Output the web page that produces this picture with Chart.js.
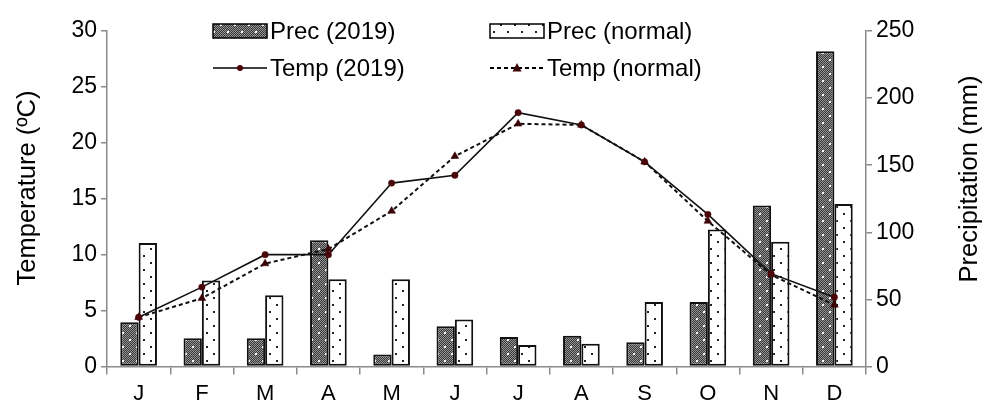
<!DOCTYPE html>
<html><head><meta charset="utf-8">
<script src="https://cdn.jsdelivr.net/npm/chart.js@4.4.1/dist/chart.umd.min.js"></script>
<style>html,body{margin:0;padding:0;background:#fff}#wrap{width:984px;height:405px;position:relative}</style>
</head><body><div id="wrap"><canvas id="c" width="984" height="405"></canvas></div>
<script>
const months = ['J','F','M','A','M','J','J','A','S','O','N','D'];
const precip2019 = [33,21,21,94,9,30,22,23,18,48,120,235];
const precipNormal = [92,64,53,65,65,35,16,17,48,102,93,121];
const temp2019 = [4.4,7.1,10.0,10.0,16.4,17.1,22.7,21.6,18.3,13.6,8.3,6.2];
const tempNormal = [4.4,6.1,9.2,10.5,13.9,18.8,21.7,21.6,18.3,13.0,8.2,5.5];
const tempTicks = [0,5,10,15,20,25,30];
const precipTicks = [0,50,100,150,200,250];
const labels = ['Prec (2019)','Prec (normal)','Temp (2019)','Temp (normal)'];
const axisTitles = ['Temperature (ºC)','Precipitation (mm)'];

const FONT = '"Liberation Sans", Arial, sans-serif';

function makePattern(dark){
  const c=document.createElement('canvas'); c.width=14; c.height=14;
  const x=c.getContext('2d');
  if(dark){
    x.fillStyle='#383838'; x.fillRect(0,0,14,14);
    x.fillStyle='#959595';
    for(let i=0;i<14;i++)for(let j=0;j<14;j++) if((i+j)%2===0) x.fillRect(i,j,1,1);
    x.fillStyle='#ffffff';
    x.fillRect(3,3,2,2); x.fillRect(10,10,2,2);
  } else {
    x.fillStyle='#ffffff'; x.fillRect(0,0,14,14);
    x.fillStyle='#222';
    x.fillRect(3,3,2,2); x.fillRect(10,10,2,2);
  }
  return x.createPattern(c,'repeat');
}
const patDark=makePattern(true), patLight=makePattern(false);

const overlay={id:'overlay',afterDraw(chart){
  const ctx=chart.ctx; ctx.save();
  ctx.fillStyle='#000';
  // axis titles
  ctx.font='25.5px '+FONT; ctx.textAlign='center'; ctx.textBaseline='middle';
  ctx.save(); ctx.translate(28,188); ctx.rotate(-Math.PI/2); ctx.fillText(axisTitles[0],0,0); ctx.restore();
  ctx.save(); ctx.translate(970,179); ctx.rotate(-Math.PI/2); ctx.fillText(axisTitles[1],0,0); ctx.restore();
  // legend
  ctx.font='24px '+FONT; ctx.textAlign='left'; ctx.textBaseline='middle';
  const cols=[213,490], rows=[31,68];
  [[0,0,0],[1,1,0],[2,0,1],[3,1,1]].forEach(([di,ci,ri])=>{
    const ds=chart.data.datasets[di]; const x=cols[ci], y=rows[ri];
    if(ds.type==='bar'){
      ctx.fillStyle=ds.backgroundColor; ctx.fillRect(x,y-7,54,14);
      ctx.strokeStyle='#000'; ctx.lineWidth=1.5; ctx.strokeRect(x,y-7,54,14);
    } else {
      ctx.strokeStyle='#000'; ctx.lineWidth=ds.borderWidth; ctx.setLineDash(ds.borderDash||[]);
      ctx.beginPath(); ctx.moveTo(x,y); ctx.lineTo(x+54,y); ctx.stroke(); ctx.setLineDash([]);
      ctx.fillStyle=ds.pointBackgroundColor;
      ctx.beginPath();
      if(ds.pointStyle==='triangle'){ctx.moveTo(x+27,y-5);ctx.lineTo(x+31.5,y+3.5);ctx.lineTo(x+22.5,y+3.5);ctx.closePath();}
      else ctx.arc(x+27,y,3,0,Math.PI*2);
      ctx.fill();
    }
    ctx.fillStyle='#000'; ctx.fillText(ds.label,x+57,y+1);
  });
  ctx.restore();
}};

new Chart(document.getElementById('c'),{
  data:{labels:months,datasets:[
    {type:'bar',label:labels[0],data:precip2019,yAxisID:'yP',backgroundColor:patDark,borderColor:'#111',borderWidth:2,borderSkipped:false,categoryPercentage:0.58,barPercentage:1,order:2},
    {type:'bar',label:labels[1],data:precipNormal,yAxisID:'yP',backgroundColor:patLight,borderColor:'#111',borderWidth:2,borderSkipped:false,categoryPercentage:0.58,barPercentage:1,order:2},
    {type:'line',label:labels[2],data:temp2019,yAxisID:'yT',borderColor:'#111',borderWidth:1.6,pointStyle:'circle',pointRadius:3.2,pointBackgroundColor:'#4a0608',pointBorderColor:'#4a0608',pointBorderWidth:0.5,tension:0,order:0},
    {type:'line',label:labels[3],data:tempNormal,yAxisID:'yT',borderColor:'#111',borderWidth:2,borderDash:[4,3],pointStyle:'triangle',pointRadius:4.5,pointBackgroundColor:'#3a0406',pointBorderColor:'#3a0406',pointBorderWidth:0.5,tension:0,order:1}
  ]},
  options:{
    responsive:false,animation:false,devicePixelRatio:1,
    layout:{padding:{top:31,left:0,right:0,bottom:0}},
    plugins:{legend:{display:false},tooltip:{enabled:false}},
    scales:{
      x:{type:'category',offset:true,
        grid:{display:true,drawOnChartArea:false,offset:true,tickLength:8,color:'#8a8a8a',lineWidth:1.5},
        border:{display:true,color:'#8a8a8a',width:1.5},
        ticks:{color:'#000',font:{family:FONT,size:22},padding:6},
        afterFit(s){s.height=38.5;}},
      yT:{type:'linear',position:'left',min:0,max:30,
        afterBuildTicks(s){s.ticks=tempTicks.map(v=>({value:v}));},
        grid:{display:true,drawOnChartArea:false,tickLength:6,color:'#8a8a8a',lineWidth:1.5},
        border:{display:true,color:'#8a8a8a',width:1.5},
        ticks:{color:'#000',font:{family:FONT,size:23},padding:4},
        afterFit(s){s.width=107;}},
      yP:{type:'linear',position:'right',min:0,max:250,
        afterBuildTicks(s){s.ticks=precipTicks.map(v=>({value:v}));},
        grid:{display:true,drawOnChartArea:false,tickLength:6,color:'#8a8a8a',lineWidth:1.5},
        border:{display:true,color:'#8a8a8a',width:1.5},
        ticks:{color:'#000',font:{family:FONT,size:23},padding:4},
        afterFit(s){s.width=118;}}
    }
  },
  plugins:[overlay]
});
</script></body></html>
